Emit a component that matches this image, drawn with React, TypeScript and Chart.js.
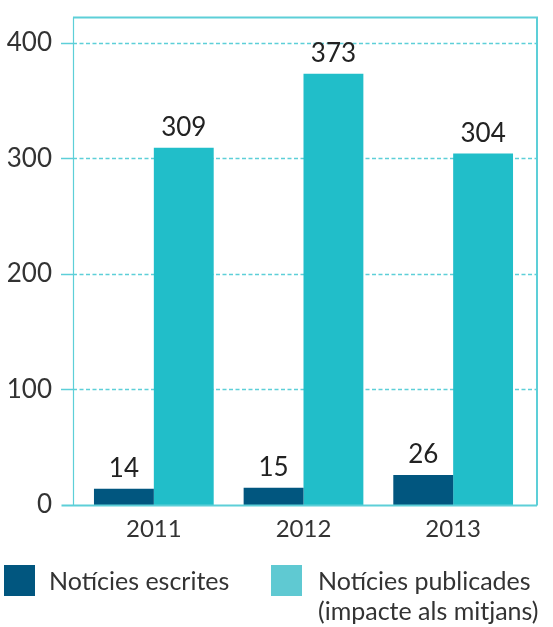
import React, { useEffect, useRef } from "react";
import { Chart, registerables } from "chart.js";

Chart.register(...registerables);

const categories = ["2011", "2012", "2013"];
const escrites = [14, 15, 26];
const publicades = [309, 373, 304];
const yTicks = [0, 100, 200, 300, 400];
const legendLabels = ["Notícies escrites", "Notícies publicades", "(impacte als mitjans)"];

const FONT = "Lato, 'Open Sans', sans-serif";
const GRID = "#5dcfd8";
const TEXT = "#333333";

const framePlugin = {
  id: "frameAndGrid",
  beforeDatasetsDraw(chart: any) {
    const { ctx, chartArea, scales } = chart;
    const y = scales.y;
    const left = chartArea.left - 6;
    const right = chartArea.right + 9;
    ctx.save();
    ctx.strokeStyle = GRID;
    ctx.lineWidth = 1.5;
    yTicks.forEach((v) => {
      if (v === 0) return;
      const py = Math.round(y.getPixelForValue(v)) + 0.5;
      ctx.setLineDash([]);
      ctx.beginPath();
      ctx.moveTo(left - 12, py);
      ctx.lineTo(left, py);
      ctx.stroke();
      ctx.setLineDash([4, 2.5]);
      ctx.beginPath();
      ctx.moveTo(left, py);
      ctx.lineTo(right, py);
      ctx.stroke();
    });
    ctx.restore();
  },
  afterDatasetsDraw(chart: any) {
    const { ctx, chartArea, scales } = chart;
    const y = scales.y;
    const left = chartArea.left - 6 + 0.5;
    const right = chartArea.right + 9;
    const top = chartArea.top - 25;
    const bottom = Math.round(y.getPixelForValue(0)) + 0.5;
    ctx.save();
    ctx.strokeStyle = GRID;
    ctx.setLineDash([]);
    ctx.lineWidth = 1.2;
    ctx.beginPath();
    ctx.moveTo(left, bottom);
    ctx.lineTo(left, top);
    ctx.stroke();
    ctx.lineWidth = 2;
    ctx.beginPath();
    ctx.moveTo(left - 0.5, top);
    ctx.lineTo(right, top);
    ctx.lineTo(right, bottom);
    ctx.stroke();
    ctx.lineWidth = 2;
    ctx.beginPath();
    ctx.moveTo(left - 12, bottom);
    ctx.lineTo(right, bottom);
    ctx.stroke();

    // value labels
    ctx.fillStyle = "#222222";
    ctx.font = `26px ${FONT}`;
    ctx.textAlign = "center";
    ctx.textBaseline = "alphabetic";
    chart.data.datasets.forEach((ds: any, di: number) => {
      const meta = chart.getDatasetMeta(di);
      meta.data.forEach((el: any, i: number) => {
        ctx.fillText(String(ds.data[i]), el.x, el.y - 12);
      });
    });
    ctx.restore();
  },
};

export default function App() {
  const ref = useRef<HTMLCanvasElement>(null);
  useEffect(() => {
    if (!ref.current) return;
    const chart = new Chart(ref.current, {
      type: "bar",
      data: {
        labels: categories,
        datasets: [
          {
            label: legendLabels[0],
            data: escrites,
            backgroundColor: "#01567f",
            categoryPercentage: 0.8,
            barPercentage: 1.0,
          },
          {
            label: legendLabels[1] + " " + legendLabels[2],
            data: publicades,
            backgroundColor: "#21bec9",
            categoryPercentage: 0.8,
            barPercentage: 1.0,
          },
        ],
      },
      options: {
        responsive: false,
        animation: false,
        layout: { padding: { left: 0, top: 39, right: 25, bottom: 82 } },
        plugins: { legend: { display: false }, tooltip: { enabled: false } },
        scales: {
          x: {
            grid: { display: false, drawTicks: false },
            border: { display: false },
            ticks: {
              color: TEXT,
              font: { family: FONT, size: 24 },
              padding: 10,
            },
            afterFit: (s: any) => {
              s.height = 40;
            },
          },
          y: {
            min: 0,
            max: 400,
            grid: { display: false, drawTicks: false },
            border: { display: false },
            afterBuildTicks: (s: any) => {
              s.ticks = yTicks.map((v) => ({ value: v }));
            },
            ticks: {
              color: TEXT,
              font: { family: FONT, size: 26 },
              padding: 27,
            },
            afterFit: (s: any) => {
              s.width = 79;
            },
          },
        },
      },
      plugins: [framePlugin],
    });
    return () => chart.destroy();
  }, []);

  const textStyle: React.CSSProperties = {
    position: "absolute",
    fontFamily: FONT,
    fontSize: 25,
    color: TEXT,
    lineHeight: "30px",
    whiteSpace: "nowrap",
  };

  return (
    <div style={{ position: "absolute", left: 0, top: 0, width: 553, height: 627 }}>
      <canvas ref={ref} width={553} height={627} style={{ display: "block" }} />
      <div style={{ position: "absolute", left: 4, top: 565, width: 31, height: 31, background: "#01567f" }} />
      <div style={{ ...textStyle, left: 49, top: 565 }}>{legendLabels[0]}</div>
      <div style={{ position: "absolute", left: 271, top: 565, width: 31, height: 31, background: "#5fc9d2" }} />
      <div style={{ ...textStyle, left: 318, top: 565 }}>
        {legendLabels[1]}
        <br />
        {legendLabels[2]}
      </div>
    </div>
  );
}
